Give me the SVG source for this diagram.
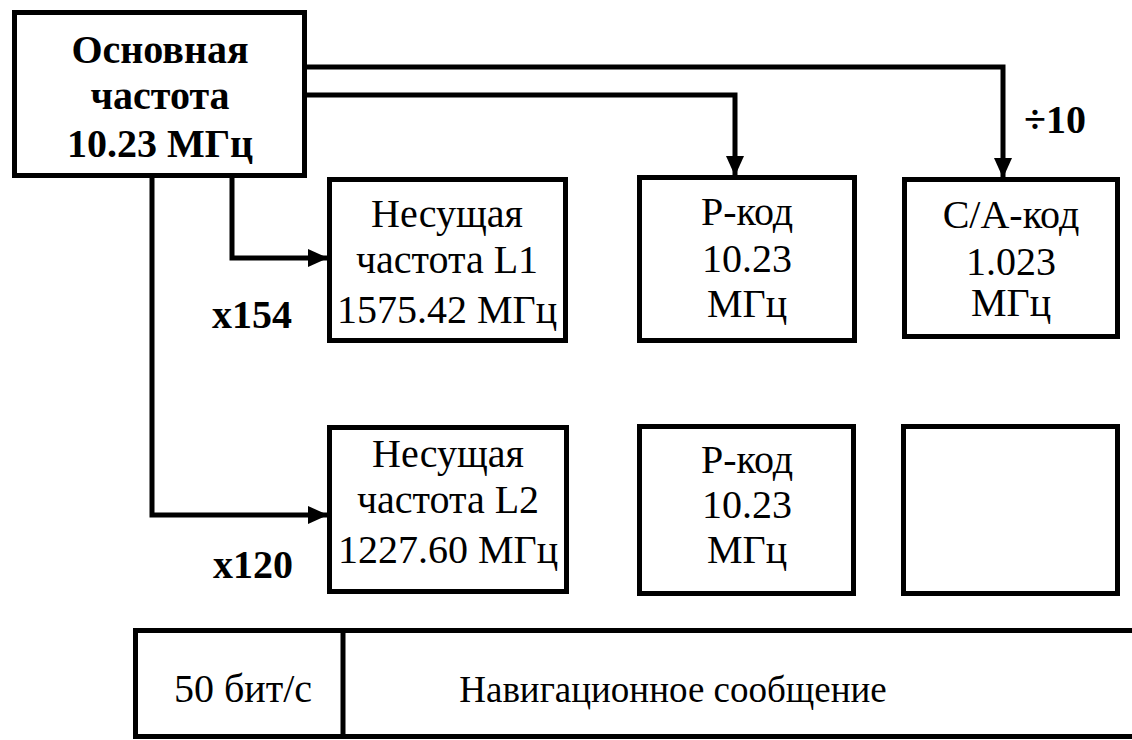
<svg xmlns="http://www.w3.org/2000/svg" width="1132" height="740" viewBox="0 0 1132 740">
<style>
.box{fill:#fff;stroke:#000;stroke-width:5}
.conn{fill:none;stroke:#000;stroke-width:5;stroke-linejoin:miter}
text{font-family:'Liberation Serif','DejaVu Serif',serif;font-size:40px;fill:#000;text-anchor:middle}
.b{font-weight:bold}
.s{font-size:37px}
</style>
<defs>
<marker id="arr" markerUnits="userSpaceOnUse" markerWidth="20" markerHeight="18" refX="19" refY="9" orient="auto">
<path d="M0,0 L20,9 L0,18 z" fill="#000"/>
</marker>
</defs>
<rect width="1132" height="740" fill="#fff"/>
<g id="connectors">
<path class="conn" d="M305,67 H1003 V177" marker-end="url(#arr)"/>
<path class="conn" d="M305,95 H735 V175" marker-end="url(#arr)"/>
<path class="conn" d="M232,175 V258 H327" marker-end="url(#arr)"/>
<path class="conn" d="M152,175 V515 H327" marker-end="url(#arr)"/>
</g>
<g id="main">
<rect class="box" x="14.5" y="12.5" width="290" height="163"/>
<text class="b" x="160" y="63">Основная</text>
<text class="b" x="160" y="109">частота</text>
<text class="b" x="160" y="157">10.23 МГц</text>
</g>
<g id="l1">
<rect class="box" x="329.5" y="179.5" width="236" height="161"/>
<text x="447" y="227">Несущая</text>
<text x="447" y="273">частота L1</text>
<text x="447" y="323">1575.42 МГц</text>
</g>
<g id="p1">
<rect class="box" x="639.5" y="177.5" width="215" height="163"/>
<text x="747" y="225">Р-код</text>
<text x="747" y="272">10.23</text>
<text x="747" y="317">МГц</text>
</g>
<g id="ca">
<rect class="box" x="904.5" y="179.5" width="213" height="157"/>
<text x="1011" y="228">С/А-код</text>
<text x="1011" y="275">1.023</text>
<text x="1011" y="316">МГц</text>
</g>
<g id="l2">
<rect class="box" x="329.5" y="427.5" width="237" height="164"/>
<text x="448" y="467">Несущая</text>
<text x="448" y="513">частота L2</text>
<text x="448" y="563">1227.60 МГц</text>
</g>
<g id="p2">
<rect class="box" x="639.5" y="426.5" width="214" height="167"/>
<text x="747" y="473">Р-код</text>
<text x="747" y="518">10.23</text>
<text x="747" y="563">МГц</text>
</g>
<g id="blank">
<rect class="box" x="903.5" y="426.5" width="214" height="167"/>
</g>
<g id="labels">
<text class="b" x="252" y="328">x154</text>
<text class="b" x="253" y="578">x120</text>
<text class="b" x="1055" y="133">÷10</text>
</g>
<g id="nav">
<rect class="box" x="135.5" y="630.5" width="1010" height="106"/>
<line class="conn" x1="343" y1="630" x2="343" y2="737"/>
<text x="243" y="702">50 бит/с</text>
<text class="s" x="673" y="702">Навигационное сообщение</text>
</g>
</svg>
